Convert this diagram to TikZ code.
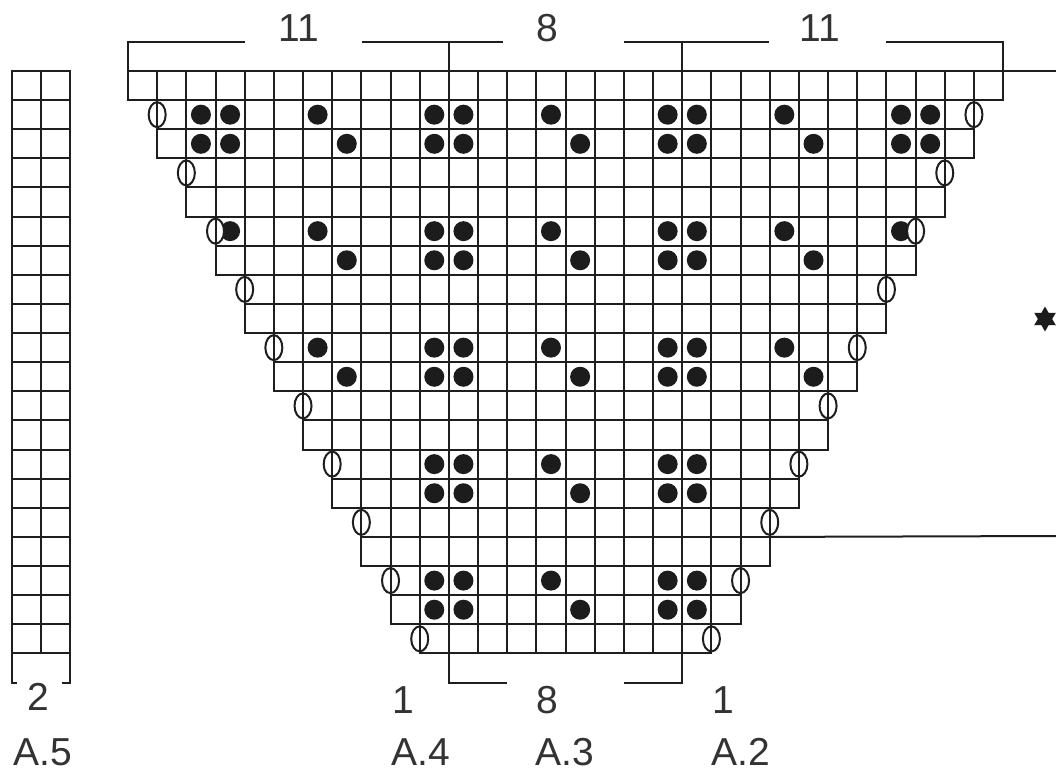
\documentclass[tikz,border=0pt]{standalone}
\usepackage{fontspec}
\setmainfont{Liberation Sans}
\usetikzlibrary{shapes.geometric}
\definecolor{ink}{HTML}{1E1E1E}
\definecolor{txt}{HTML}{333333}
\definecolor{blob}{HTML}{1C1C1C}
\tikzset{
  gridline/.style={draw=ink,line width=2pt,line cap=rect},
  bracket/.style={draw=ink,line width=2pt,line join=miter},
  dotmark/.style={circle,fill=blob,draw=none,minimum size=20pt,inner sep=0pt},
  ovalmark/.style={ellipse,draw=ink,fill=white,line width=2pt,minimum width=17pt,minimum height=25pt,inner sep=0pt},
  lab/.style={text=txt,anchor=base,inner sep=0pt,font=\fontsize{39}{39}\selectfont},
  starmark/.style={star,star points=6,star point ratio=1.75,fill=blob,draw=none,minimum size=25pt,inner sep=0pt}
}
\begin{document}
\begin{tikzpicture}[x=1pt,y=-1pt]
\useasboundingbox[fill=white] (0,0) rectangle (1056,773);
% labels
\node[lab] (n11a) at (299,42) {11};
\node[lab] (n8a) at (547,42) {8};
\node[lab] (n11b) at (820,42) {11};
\node[lab] (n2) at (38,710) {2};
\node[lab] (n1a) at (403,713) {1};
\node[lab] (n8b) at (547,713) {8};
\node[lab] (n1b) at (723,713) {1};
\node[lab] (a5) at (43,765) {A.5};
\node[lab] (a4) at (421,765) {A.4};
\node[lab] (a3) at (565,765) {A.3};
\node[lab] (a2) at (741,765) {A.2};
\node[starmark] (st) at (1045,319) {};
\coordinate (edgeA) at (1056,71);
\coordinate (edgeB) at (1056,536);
% left strip A.5
\begin{scope}[shift={(12,71)},x=29pt,y=-29.12pt]
  \foreach \r in {0,...,20} \draw[gridline] (0,\r) -- (2,\r);
  \draw[gridline] (1,0) -- (1,20);
  \coordinate (sa) at (0,0); \coordinate (sb) at (0,21);
  \coordinate (sc) at (0.17,21); \coordinate (sd) at (2,0);
  \coordinate (se) at (2,21); \coordinate (sf) at (1.72,21);
  \draw[bracket] (sa) -- (sb) -- (sc);
  \draw[bracket] (sd) -- (se) -- (sf);
\end{scope}
% main chart
\begin{scope}[shift={(128,71)},x=29.17pt,y=-29.12pt]
  \foreach \r in {0,...,19}{
    \pgfmathtruncatemacro{\a}{ceil(\r/2)}
    \pgfmathtruncatemacro{\b}{30-\a}
    \pgfmathtruncatemacro{\n}{\r+1}
    \draw[gridline] (\a,\r) -- (\b,\r);
    \draw[gridline] (\a,\n) -- (\b,\n);
    \foreach \c in {\a,...,\b}{ \draw[gridline] (\c,\r) -- (\c,\n); }
  }
  % dots
  \foreach \r/\cols in {
    1/{2,3,6,10,11,14,18,19,22,26,27},
    2/{2,3,7,10,11,15,18,19,23,26,27},
    5/{3,6,10,11,14,18,19,22,26},
    6/{7,10,11,15,18,19,23},
    9/{6,10,11,14,18,19,22},
    10/{7,10,11,15,18,19,23},
    13/{10,11,14,18,19},
    14/{10,11,15,18,19},
    17/{10,11,14,18,19},
    18/{10,11,15,18,19}}{
    \foreach \c in \cols { \node[dotmark] (d\r-\c) at (\c+0.5,\r+0.5) {}; }
  }
  % ovals
  \foreach \r in {1,3,...,19}{
    \pgfmathtruncatemacro{\a}{ceil(\r/2)}
    \pgfmathtruncatemacro{\b}{30-\a}
    \node[ovalmark] (ol\r) at (\a,\r+0.5) {};
    \node[ovalmark] (or\r) at (\b,\r+0.5) {};
    \draw[draw=ink,line width=2pt] (ol\r.north) -- (ol\r.south);
    \draw[draw=ink,line width=2pt] (or\r.north) -- (or\r.south);
  }
  % top brackets
  \coordinate (t0) at (0,0); \coordinate (t0u) at (0,-1); \coordinate (t0e) at (4,-1);
  \coordinate (t1s) at (8.02,-1); \coordinate (t1) at (11,-1); \coordinate (t1e) at (12.85,-1); \coordinate (t1d) at (11,0);
  \coordinate (t2s) at (17,-1); \coordinate (t2) at (19,-1); \coordinate (t2e) at (21.97,-1); \coordinate (t2d) at (19,0);
  \coordinate (t3s) at (26,-1); \coordinate (t3) at (30,-1); \coordinate (t3d) at (30,0);
  \draw[bracket] (t0) -- (t0u) -- (t0e);
  \draw[bracket] (t1s) -- (t1e);
  \draw[bracket] (t1) -- (t1d);
  \draw[bracket] (t2s) -- (t2e);
  \draw[bracket] (t2) -- (t2d);
  \draw[bracket] (t3s) -- (t3) -- (t3d);
  \draw[bracket] (t3d) -- (edgeA);
  % bottom bracket
  \coordinate (b1) at (11,20); \coordinate (b1d) at (11,21); \coordinate (b1e) at (13,21);
  \coordinate (b2) at (19,20); \coordinate (b2d) at (19,21); \coordinate (b2e) at (17,21);
  \draw[bracket] (b1) -- (b1d) -- (b1e);
  \draw[bracket] (b2) -- (b2d) -- (b2e);
  % outgoing line
  \coordinate (o16) at (22,16);
  \draw[bracket] (o16) -- (edgeB);
\end{scope}
\end{tikzpicture}
\end{document}
